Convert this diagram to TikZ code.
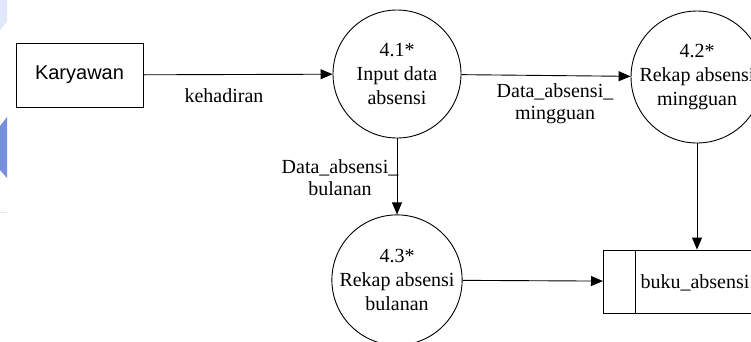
\documentclass[tikz,border=0pt]{standalone}
\usepackage{fontspec}
\setmainfont{Liberation Serif}
\newfontfamily\arialfont{Liberation Sans}
\usetikzlibrary{arrows.meta}
\definecolor{slideblue}{RGB}{120,142,222}
\definecolor{slidepale}{RGB}{226,232,252}

\begin{document}
\begin{tikzpicture}[x=1pt,y=-1pt,
  thick,line width=0.9pt,
  proc node/.style={circle,draw,minimum size=128pt,inner sep=0pt,align=center,
    font=\fontsize{20}{24}\selectfont},
  ent node/.style={rectangle,draw,minimum width=127pt,minimum height=64pt,
    font=\arialfont\fontsize{20}{24}\selectfont},
  flow/.style={-{Triangle[length=12pt,width=10pt]}},
  lbl/.style={align=center,inner sep=0pt,font=\fontsize{20}{22}\selectfont}]

  \useasboundingbox (0,0) rectangle (751,341);
  % slide leftovers at the left edge
  \fill[slidepale] (0,0) -- (7,0) -- (7,22) -- (0,30) -- cycle;
  \fill[slideblue] (0,126) -- (7,117) -- (7,178) -- (0,170) -- cycle;
  \draw[slidepale,line width=0.6pt] (0,212) -- (7,212);

  \node[ent node] (kar) at (79.5,75) {Karyawan};
  \node[proc node] (p1) at (397,74) {4.1*\\Input data\\absensi};
  \node[proc node] (p2) at (697,77) {4.2*\\Rekap absensi\\mingguan};
  \node[proc node] (p3) at (397,280) {4.3*\\Rekap absensi\\bulanan};
  \node[rectangle,draw,minimum width=160pt,minimum height=63pt,anchor=west] (buku) at (603,281.5) {};
  \draw ([xshift=32pt]buku.north west) -- ([xshift=32pt]buku.south west);
  \node[lbl] at (695,283) {buku\_absensi};

  \path[flow]
    (kar) edge (p1)
    (p1) edge (p2)
    	edge (p3)
    (p3) edge (buku);
  \draw[flow] (p2) -- (p2 |- buku.north);

  \node[lbl] at (224,96) {kehadiran};
  \node[lbl] at (555,104) {Data\_absensi\_\\mingguan};
  \node[lbl] at (340,178) {Data\_absensi\_\\bulanan};

\end{tikzpicture}
\end{document}
